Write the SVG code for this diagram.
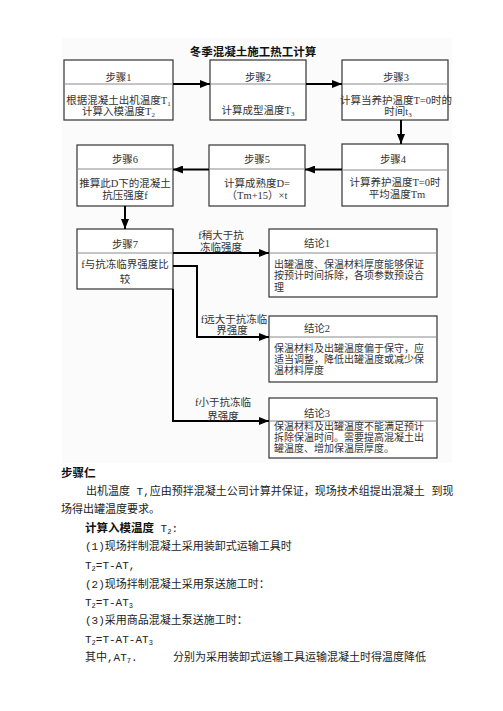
<svg xmlns="http://www.w3.org/2000/svg" width="503" height="711" viewBox="0 0 503 711">
<style>
.bx{fill:#fff;stroke:#333;stroke-width:1.2}
.dv{stroke:#8a8a8a;stroke-width:1}
.t{font-family:"Liberation Serif","Noto Sans CJK SC",serif;font-size:10.5px;fill:#333;text-anchor:middle}
.tl{font-family:"Liberation Serif","Noto Sans CJK SC",serif;font-size:10px;fill:#333}
.cn{fill:none;stroke:#000;stroke-width:2}
.b{font-family:"Liberation Mono","Noto Sans CJK SC",monospace;font-size:11px;fill:#222}
.bb{font-family:"Liberation Sans","Noto Sans CJK SC",sans-serif;font-size:11.5px;font-weight:bold;fill:#111}
</style>
<defs>
<marker id="ah" viewBox="0 0 10 8" refX="10" refY="4" markerWidth="10" markerHeight="8" markerUnits="userSpaceOnUse" orient="auto">
<path d="M0,0 L10,4 L0,8 z" fill="#000"/>
</marker>
</defs>
<rect x="62" y="38" width="390" height="425" fill="#fbfbfb"/>
<text x="253" y="56" class="bb" text-anchor="middle" font-size="12">冬季混凝土施工热工计算</text>

<g id="step1">
<rect class="bx" x="64" y="60" width="109" height="60"/>
<line class="dv" x1="64" y1="84" x2="173" y2="84"/>
<text class="t" x="118.5" y="81">步骤1</text>
<text class="t" x="118.5" y="104">根据混凝土出机温度T<tspan font-size="7" dy="2">1</tspan></text>
<text class="t" x="118.5" y="115">计算入模温度T<tspan font-size="7" dy="2">2</tspan></text>
</g>
<g id="step2">
<rect class="bx" x="210" y="60" width="96" height="60"/>
<line class="dv" x1="210" y1="84" x2="306" y2="84"/>
<text class="t" x="258" y="81">步骤2</text>
<text class="t" x="258" y="114">计算成型温度T<tspan font-size="7" dy="2">3</tspan></text>
</g>
<g id="step3">
<rect class="bx" x="342" y="60" width="106" height="60"/>
<line class="dv" x1="342" y1="84" x2="448" y2="84"/>
<text class="t" x="396" y="81">步骤3</text>
<text class="t" x="396" y="104">计算当养护温度T=0时的</text>
<text class="t" x="398" y="115">时间t<tspan font-size="7" dy="2">3</tspan></text>
</g>
<g id="step4">
<rect class="bx" x="342" y="144" width="106" height="62"/>
<line class="dv" x1="342" y1="170" x2="448" y2="170"/>
<text class="t" x="393" y="163">步骤4</text>
<text class="t" x="395" y="186">计算养护温度T=0时</text>
<text class="t" x="397" y="198">平均温度Tm</text>
</g>
<g id="step5">
<rect class="bx" x="209" y="145" width="96" height="61"/>
<line class="dv" x1="209" y1="169" x2="305" y2="169"/>
<text class="t" x="257" y="163">步骤5</text>
<text class="t" x="257" y="187">计算成熟度D=</text>
<text class="t" x="257" y="199">（Tm+15）×t</text>
</g>
<g id="step6">
<rect class="bx" x="77" y="145" width="96" height="61"/>
<line class="dv" x1="77" y1="169" x2="173" y2="169"/>
<text class="t" x="125" y="163">步骤6</text>
<text class="t" x="125" y="187">推算此D下的混凝土</text>
<text class="t" x="125" y="199">抗压强度f</text>
</g>
<g id="step7">
<rect class="bx" x="77" y="229" width="96" height="60"/>
<line class="dv" x1="77" y1="253" x2="173" y2="253"/>
<text class="t" x="125" y="248">步骤7</text>
<text class="t" x="125" y="268">f与抗冻临界强度比</text>
<text class="t" x="125" y="283">较</text>
</g>
<g id="conclusion1">
<rect class="bx" x="269" y="229" width="168" height="68"/>
<line class="dv" x1="269" y1="253" x2="437" y2="253"/>
<text class="t" x="317" y="247">结论1</text>
<text class="tl" x="274" y="268">出罐温度、保温材料厚度能够保证</text>
<text class="tl" x="274" y="279">按预计时间拆除，各项参数预设合</text>
<text class="tl" x="274" y="290.5">理</text>
</g>
<g id="conclusion2">
<rect class="bx" x="269" y="316" width="168" height="66"/>
<line class="dv" x1="269" y1="337" x2="437" y2="337"/>
<text class="t" x="317" y="332">结论2</text>
<text class="tl" x="274" y="351.5">保温材料及出罐温度偏于保守，应</text>
<text class="tl" x="274" y="362.5">适当调整，降低出罐温度或减少保</text>
<text class="tl" x="274" y="374">温材料厚度</text>
</g>
<g id="conclusion3">
<rect class="bx" x="269" y="398" width="168" height="60"/>
<line class="dv" x1="269" y1="421" x2="437" y2="421"/>
<text class="t" x="317" y="417">结论3</text>
<text class="tl" x="274" y="430">保温材料及出罐温度不能满足预计</text>
<text class="tl" x="274" y="441">拆除保温时间。需要提高混凝土出</text>
<text class="tl" x="274" y="452">罐温度、增加保温层厚度。</text>
</g>

<g id="connectors">
<path class="cn" d="M173,84 H210" marker-end="url(#ah)"/>
<path class="cn" d="M306,84 H342" marker-end="url(#ah)"/>
<path class="cn" d="M401,120 V144" marker-end="url(#ah)"/>
<path class="cn" d="M342,169.5 H305" marker-end="url(#ah)"/>
<path class="cn" d="M209,169.5 H173" marker-end="url(#ah)"/>
<path class="cn" d="M125,206 V229" marker-end="url(#ah)"/>
<path class="cn" d="M173,253 H269" marker-end="url(#ah)"/>
<path class="cn" d="M173,266 H197 V337 H269" marker-end="url(#ah)"/>
<path class="cn" d="M173,289 V421 H269" marker-end="url(#ah)"/>
<text class="t" x="221" y="238.5">f稍大于抗</text>
<text class="t" x="221" y="250.5">冻临强度</text>
<text class="t" x="234" y="322.5">f远大于抗冻临</text>
<text class="t" x="232" y="334">界强度</text>
<text class="t" x="223" y="406">f小于抗冻临</text>
<text class="t" x="223" y="420">界强度</text>
</g>

<text class="bb" x="61" y="477">步骤仁</text>
<text class="b" x="86" y="495">出机温度 T,应由预拌混凝土公司计算并保证，现场技术组提出混凝土 到现</text>
<text class="b" x="61" y="513">场得出罐温度要求。</text>
<text class="b" x="85" y="532"><tspan class="bb" font-size="11.5px">计算入模温度</tspan> T<tspan font-size="7" dy="2">2</tspan><tspan dy="-2">:</tspan></text>
<text class="b" x="85" y="550">(1)现场拌制混凝土采用装卸式运输工具时</text>
<text class="b" x="85" y="569">T<tspan font-size="7" dy="2">2</tspan><tspan dy="-2">=T-AT,</tspan></text>
<text class="b" x="85" y="588">(2)现场拌制混凝土采用泵送施工时：</text>
<text class="b" x="85" y="606">T<tspan font-size="7" dy="2">2</tspan><tspan dy="-2">=T-AT</tspan><tspan font-size="7" dy="2">3</tspan></text>
<text class="b" x="85" y="624">(3)采用商品混凝土泵送施工时：</text>
<text class="b" x="85" y="643">T<tspan font-size="7" dy="2">2</tspan><tspan dy="-2">=T-AT-AT</tspan><tspan font-size="7" dy="2">3</tspan></text>
<text class="b" x="85" y="661">其中,AT<tspan font-size="7" dy="2">7</tspan><tspan dy="-2">.</tspan></text>
<text class="b" x="173" y="661">分别为采用装卸式运输工具运输混凝土时得温度降低</text>
</svg>
